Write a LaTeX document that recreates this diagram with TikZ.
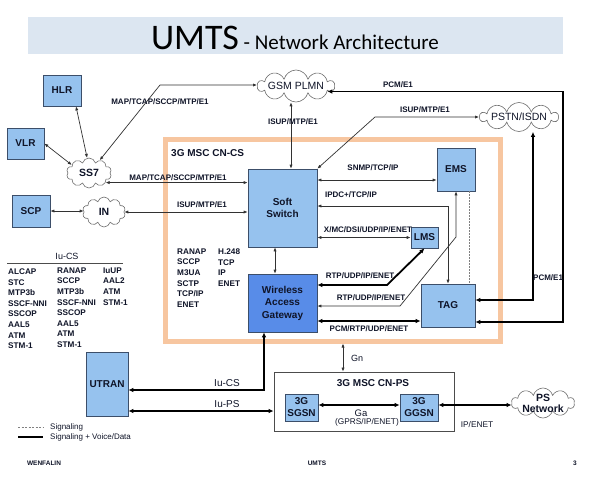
\documentclass[tikz,border=0pt]{standalone}
\usepackage{fontspec}
\setmainfont{Liberation Sans}
\newfontfamily\titlefont{Carlito}
\usetikzlibrary{shapes.symbols,arrows.meta}
\definecolor{barC}{RGB}{220,230,241}
\definecolor{boxC}{RGB}{150,194,238}
\definecolor{wagC}{RGB}{88,140,232}
\definecolor{orgC}{RGB}{247,198,160}
\definecolor{edgeC}{RGB}{60,78,105}
\definecolor{cldC}{RGB}{110,110,110}
\definecolor{txtC}{RGB}{15,20,40}
\definecolor{lnC}{RGB}{50,50,50}
\begin{document}
\begin{tikzpicture}[x=1pt,y=-1pt,
 box/.style={draw=edgeC,fill=boxC,line width=0.7pt,inner sep=0pt,align=center,text=txtC,font=\fontsize{10}{12}\selectfont\bfseries},
 cld/.style={cloud,cloud puffs=10,cloud ignores aspect,draw=cldC,fill=white,line width=0.6pt,inner sep=0pt},
 lbl/.style={inner sep=0pt,text=txtC,font=\fontsize{8}{10}\selectfont\bfseries},
 plain/.style={inner sep=0pt,text=txtC,font=\fontsize{8.3}{10}\selectfont},
 stack/.style={inner sep=0pt,text=txtC,align=left,anchor=north west,font=\fontsize{8.2}{10.6}\selectfont\bfseries},
 sig/.style={draw=lnC,line width=0.7pt,{Latex[length=4pt,width=3.2pt]}-{Latex[length=4pt,width=3.2pt]}},
 dat/.style={draw=black,line width=1.8pt,{Latex[length=5pt,width=4.6pt]}-{Latex[length=5pt,width=4.6pt]}},
 cldtxt/.style={text=txtC,inner sep=0pt,align=center}
]
\useasboundingbox (0,0) rectangle (592,480);
\fill[white] (0,0) rectangle (592,480);

% title
\node[fill=barC,minimum width=535pt,minimum height=37pt,inner sep=0pt] (bar) at (295.5,35.5) {};
\node[anchor=base,inner sep=0pt,text=black,font=\titlefont] (title) at (295,49)
 {\fontsize{36}{40}\selectfont UMTS\fontsize{21}{24}\selectfont{} - Network Architecture};

% CN-CS frame
\node[draw=orgC,line width=5pt,minimum width=335pt,minimum height=202pt,inner sep=0pt] (msc) at (332.5,240) {};
\node[lbl,anchor=west,font=\fontsize{10}{12}\selectfont\bfseries] (msclbl) at (171,153) {3G MSC CN-CS};

% boxes
\node[box,minimum width=38pt,minimum height=31pt] (hlr) at (62,90.5) {HLR};
\node[box,minimum width=37pt,minimum height=31pt] (vlr) at (25.5,143.5) {VLR};
\node[box,minimum width=38pt,minimum height=32pt] (scp) at (31,211) {SCP};
\node[box,minimum width=69pt,minimum height=78pt] (soft) at (282.5,208) {Soft\\Switch};
\node[box,fill=wagC,minimum width=69pt,minimum height=58pt,font=\fontsize{10}{12.5}\selectfont\bfseries] (wag) at (282.5,303) {Wireless\\Access\\Gateway};
\node[box,minimum width=38pt,minimum height=43pt] (ems) at (456,169.5) {EMS};
\node[box,minimum width=27pt,minimum height=21pt] (lms) at (424.5,237.5) {LMS};
\node[box,minimum width=54pt,minimum height=43pt] (tag) at (448,305.5) {TAG};
\node[box,minimum width=42pt,minimum height=64pt] (utran) at (107,384) {UTRAN};
\node[draw=gray!60!black,fill=white,line width=0.8pt,minimum width=180pt,minimum height=59pt,inner sep=0pt] (cnps) at (364,401.5) {};
\node[lbl,font=\fontsize{10}{12}\selectfont\bfseries] (cnpslbl) at (373,383) {3G MSC CN-PS};
\node[box,minimum width=33pt,minimum height=27pt] (sgsn) at (301.5,407.5) {3G\\SGSN};
\node[box,minimum width=38pt,minimum height=27pt] (ggsn) at (419,407.5) {3G\\GGSN};

% clouds
\node[cld,minimum width=45pt,minimum height=30pt,label={[cldtxt,font=\fontsize{10.5}{12}\selectfont\bfseries]center:SS7}] (ss7) at (89,173) {};
\node[cld,minimum width=43pt,minimum height=30pt,label={[cldtxt,font=\fontsize{10.5}{12}\selectfont\bfseries]center:IN}] (in) at (104,212) {};
\node[cld,minimum width=77pt,minimum height=32pt,label={[cldtxt,font=\fontsize{10.5}{12}\selectfont]center:GSM PLMN}] (gsm) at (296,86) {};
\node[cld,minimum width=78pt,minimum height=29pt,label={[cldtxt,font=\fontsize{10.5}{12}\selectfont]center:PSTN/ISDN}] (pstn) at (519,117) {};
\node[cld,minimum width=63pt,minimum height=30pt,label={[cldtxt,font=\fontsize{10.5}{11}\selectfont\bfseries]center:PS\\Network}] (psn) at (543,403) {};

% helper coordinates
\coordinate (k1) at (160,85);
\coordinate (k2) at (563,92);
\coordinate (k3) at (375,117);
\coordinate (k4) at (387,285);
\coordinate (k5) at (400,306);

% connectors outside
\draw[sig] (hlr.south -| 76,0) -- (ss7.97);
\draw[sig] (vlr.east) -- (ss7.155);
\draw[sig] (scp.east) -- (scp.east -| in.west);
\draw[sig] (ss7.50) -- (k1) -- (k1 -| gsm.west);
\draw[sig] (ss7.-30) -- (ss7.-30 -| soft.west);
\draw[sig] (in.east) -- (in.east -| soft.west);
\draw[sig] (gsm.south -| 291,0) -- (soft.north -| 291,0);
\draw[dat] (gsm.-10) -- (gsm.-10 -| k2) |- (tag.east |- 0,322);
\draw[sig] (soft.north east) -- (k3) -- (pstn.west);
\draw[dat] (pstn.south -| 533,0) |- (tag.east |- 0,300);

% connectors inside
\draw[sig] (soft.east |- 0,180) -- (ems.west |- 0,180);
\draw[sig] (soft.east |- 0,206) -| (tag.north);
\draw[sig] (soft.east |- lms.west) -- (lms.west);
\draw[sig] (soft.south -| 275,0) -- (wag.north -| 275,0);
\draw[dat] (wag.east |- k4) -- (k4) -- (lms.south);
\draw[sig] (wag.east |- k5) -- (k5) -- (ems.south |- 0,237) -- (ems.south);
\draw[dat] (wag.east |- 0,321) -- (tag.west |- 0,321);
\draw[draw=gray,line width=0.7pt,dash pattern=on 1.5pt off 1.5pt] (ems.south -| 469,0) -- (tag.north -| 469,0);

% lower
\draw[dat] (wag.south -| 264,0) |- (utran.east |- 0,390);
\draw[dat] (utran.east |- 0,411) -- (cnps.west |- 0,411);
\draw[sig] (msc.south -| 343,0) -- (cnps.north -| 343,0);
\draw[dat] (sgsn.east |- 0,405) -- (ggsn.west |- 0,405);
\draw[dat] (ggsn.east |- 0,405) -- (psn.west |- 0,405);

% labels
\node[lbl] (l1) at (160,102) {MAP/TCAP/SCCP/MTP/E1};
\node[lbl] (l2) at (178,178) {MAP/TCAP/SCCP/MTP/E1};
\node[lbl] (l3) at (202,205) {ISUP/MTP/E1};
\node[lbl] (l4) at (293,122) {ISUP/MTP/E1};
\node[lbl] (l5) at (398,85) {PCM/E1};
\node[lbl] (l6) at (425,110) {ISUP/MTP/E1};
\node[lbl,anchor=west] (l7) at (533,278) {PCM/E1};
\node[lbl] (l8) at (373,168) {SNMP/TCP/IP};
\node[lbl] (l9) at (351,195) {IPDC+/TCP/IP};
\node[lbl] (l10) at (368,230) {X/MC/DSI/UDP/IP/ENET};
\node[lbl] (l11) at (360,276) {RTP/UDP/IP/ENET};
\node[lbl] (l12) at (371,298) {RTP/UDP/IP/ENET};
\node[lbl] (l13) at (369,329) {PCM/RTP/UDP/ENET};
\node[plain,font=\fontsize{10}{12}\selectfont] (l14) at (227,383) {Iu-CS};
\node[plain,font=\fontsize{10}{12}\selectfont] (l15) at (227,404) {Iu-PS};
\node[plain,font=\fontsize{9}{11}\selectfont] (l16) at (357,358) {Gn};
\node[plain,font=\fontsize{9.5}{11}\selectfont] (l17) at (361,413) {Ga};
\node[plain] (l18) at (367,422) {(GPRS/IP/ENET)};
\node[plain] (l19) at (477,425) {IP/ENET};

% protocol stacks
\node[stack] (st1) at (177,248.5) {RANAP\\SCCP\\M3UA\\SCTP\\TCP/IP\\ENET};
\node[stack] (st2) at (218,248.5) {H.248\\TCP\\IP\\ENET};
\node[plain,font=\fontsize{9}{11}\selectfont] (iucs) at (67,256) {Iu-CS};
\coordinate (r1) at (7,263);
\coordinate (r2) at (123,263);
\draw[gray!60!black,line width=0.7pt] (r1) -- (r2);
\node[stack] (c1) at (8,268.5) {ALCAP\\STC\\MTP3b\\SSCF-NNI\\SSCOP\\AAL5\\ATM\\STM-1};
\node[stack] (c2) at (57,267.5) {RANAP\\SCCP\\MTP3b\\SSCF-NNI\\SSCOP\\AAL5\\ATM\\STM-1};
\node[stack] (c3) at (103,267.5) {IuUP\\AAL2\\ATM\\STM-1};

% legend
\coordinate (g1) at (18,427);
\coordinate (g2) at (43,427);
\coordinate (g3) at (18,437);
\coordinate (g4) at (43,437);
\draw[gray,line width=0.7pt,dash pattern=on 2pt off 1.5pt] (g1) -- (g2);
\draw[black,line width=1.6pt] (g3) -- (g4);
\node[plain,anchor=west,font=\fontsize{8}{10}\selectfont] (lg1) at (50,427) {Signaling};
\node[plain,anchor=west,font=\fontsize{8}{10}\selectfont] (lg2) at (50,437) {Signaling + Voice/Data};

% footer
\node[lbl,font=\fontsize{6.5}{8}\selectfont\bfseries] (f1) at (44,463) {WENFALIN};
\node[lbl,font=\fontsize{6.5}{8}\selectfont\bfseries] (f2) at (317,463) {UMTS};
\node[lbl,font=\fontsize{6.5}{8}\selectfont\bfseries] (f3) at (575,463) {3};
\end{tikzpicture}
\end{document}
